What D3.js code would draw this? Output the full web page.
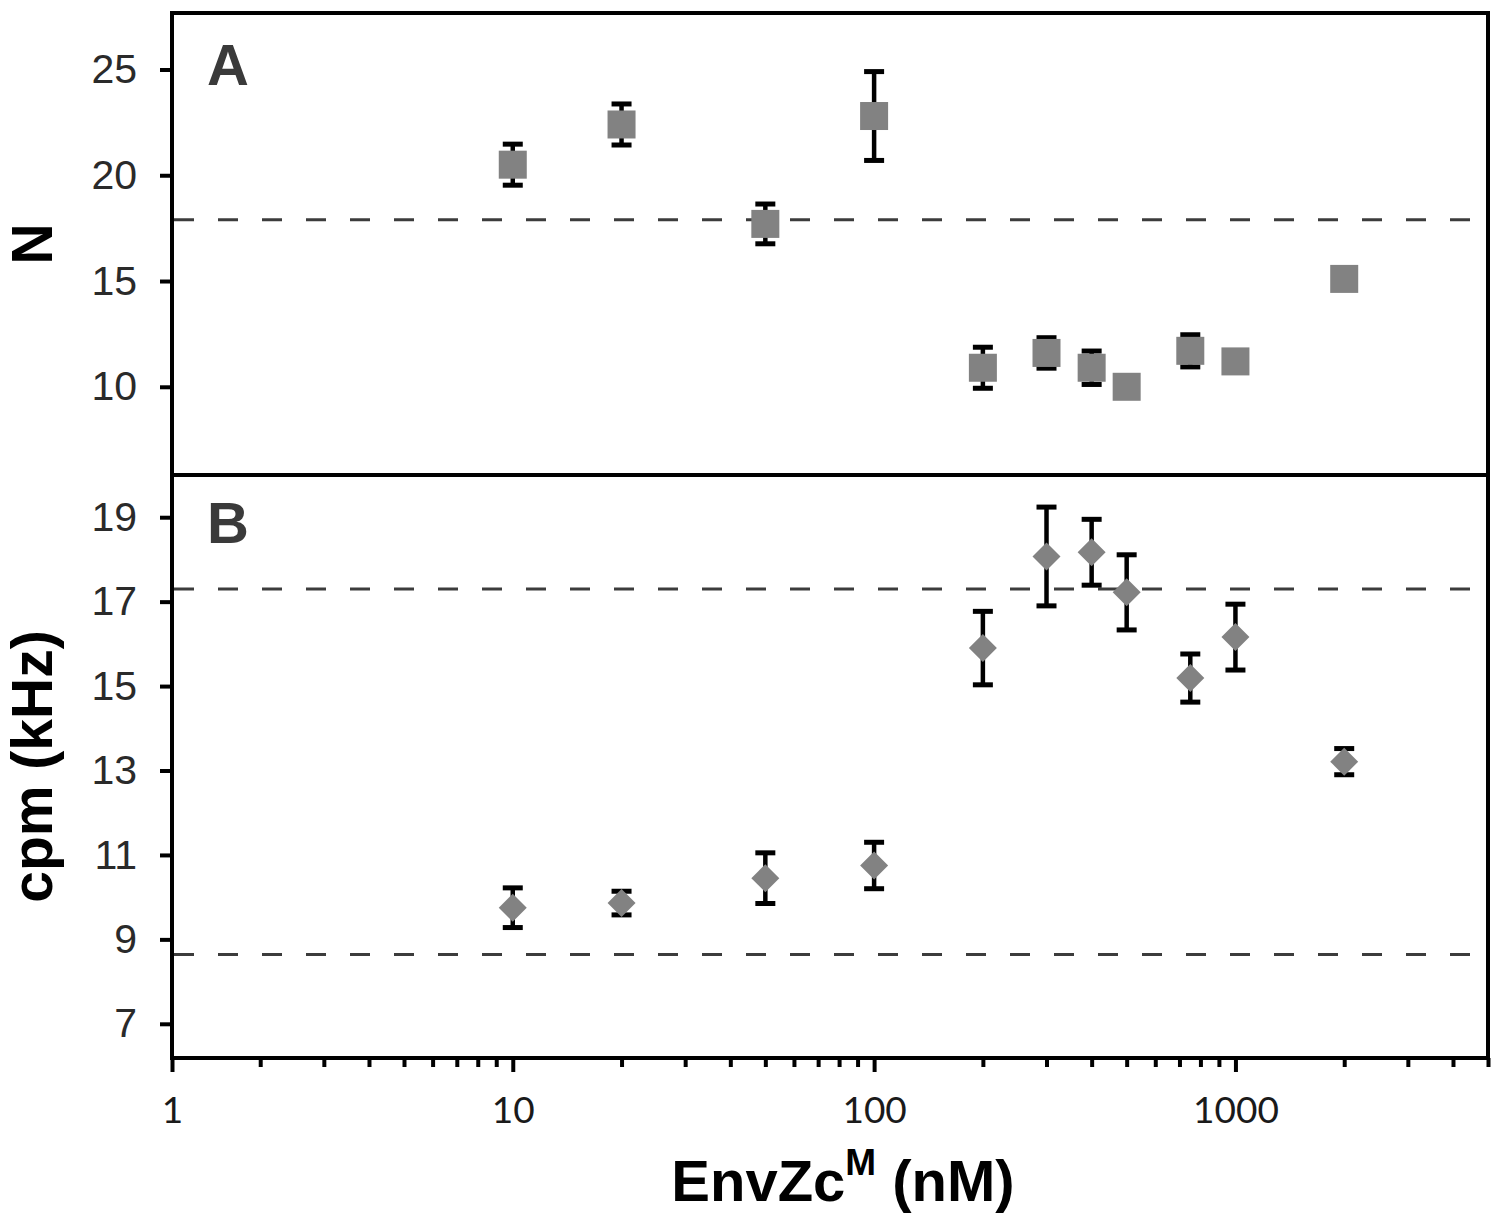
<!DOCTYPE html>
<html>
<head>
<meta charset="utf-8">
<script src="https://cdn.jsdelivr.net/npm/d3@7"></script>
<style>
  body { margin: 0; background: #fff; }
  svg { display: block; }
  .tick-label-y { font-family: "Liberation Sans", Arial, sans-serif; font-size: 41px; fill: #2a2a2a; }
  .tick-label-x { font-family: Lato, "Open Sans", sans-serif; font-size: 37px; fill: #1a1a1a; }
  .axis-title { font-family: "Liberation Sans", Arial, sans-serif; font-weight: bold; fill: #000; }
  .panel-label { font-family: "Liberation Sans", Arial, sans-serif; font-weight: bold; font-size: 58px; fill: #3a3a3a; }
</style>
</head>
<body>
<div class="d3-wrapper"></div>
<script>
// EnvZc^M concentrations (nM), shared by both panels
const concentrations = [10, 20, 50, 100, 200, 300, 400, 500, 750, 1000, 2000];

// panel A: N
const nValues = [20.5, 22.4, 17.7, 22.8, 10.9, 11.6, 10.9, 10.0, 11.7, 11.2, 15.1];
const nErrors = [0.97, 0.97, 0.94, 2.1, 0.97, 0.72, 0.79, 0.4, 0.76, 0.4, 0.3];
const nReference = [17.9];
const nTicks = [10, 15, 20, 25];

// panel B: cpm (kHz)
const cpmValues = [9.75, 9.86, 10.45, 10.75, 15.9, 18.07, 18.17, 17.22, 15.19, 16.16, 13.21];
const cpmErrors = [0.47, 0.28, 0.6, 0.55, 0.87, 1.17, 0.78, 0.89, 0.57, 0.78, 0.31];
const cpmReference = [17.3, 8.64];
const cpmTicks = [7, 9, 11, 13, 15, 17, 19];

// x axis ticks
const xMajorTicks = [10, 100, 1000];
const xMinorTicks = [2, 3, 4, 5, 6, 7, 8, 9, 20, 30, 40, 50, 60, 70, 80, 90,
  200, 300, 400, 500, 600, 700, 800, 900, 2000, 3000, 4000, 5000];

const WIDTH = 1500, HEIGHT = 1222;
const PLOT = { left: 172, right: 1488, top: 13, mid: 475, bottom: 1058 };
const X_MIN = 1.14, X_MAX = 5000; // the axis starts just right of 1 in the original

const xScale = d3.scaleLog().domain([X_MIN, X_MAX]).range([PLOT.left, PLOT.right]);
const yN = d3.scaleLinear().domain([5.83, 27.67]).range([PLOT.mid, PLOT.top]);
const yCpm = d3.scaleLinear().domain([6.19, 20.0]).range([PLOT.bottom, PLOT.mid]);

const svg = d3.select('.d3-wrapper').append('svg')
  .attr('width', WIDTH)
  .attr('height', HEIGHT);

const rows = concentrations.map((c, i) => ({
  c: c, n: nValues[i], nErr: nErrors[i], cpm: cpmValues[i], cpmErr: cpmErrors[i]
}));

function drawLeftAxis(scale, ticks) {
  const g = svg.append('g')
    .attr('transform', `translate(${PLOT.left},0)`)
    .call(d3.axisLeft(scale).tickValues(ticks).tickSize(12).tickSizeOuter(0).tickPadding(23));
  g.select('.domain').remove();
  g.attr('font-size', null).attr('font-family', null);
  g.selectAll('.tick line').attr('stroke', '#000').attr('stroke-width', 4);
  g.selectAll('.tick text').attr('class', 'tick-label-y');
}

function drawReference(scale, values) {
  svg.selectAll(null)
    .data(values)
    .enter().append('line')
    .attr('x1', PLOT.left)
    .attr('x2', PLOT.right)
    .attr('y1', d => scale(d))
    .attr('y2', d => scale(d))
    .attr('stroke', '#3c3c3c')
    .attr('stroke-width', 3)
    .attr('stroke-dasharray', '20,24')
    .attr('stroke-dashoffset', -2);
}

function drawErrorBars(scale, key, errKey) {
  const g = svg.append('g').attr('stroke', '#000');
  const bars = g.selectAll('g').data(rows).enter().append('g');
  bars.append('line')
    .attr('stroke-width', 4.5)
    .attr('x1', d => xScale(d.c)).attr('x2', d => xScale(d.c))
    .attr('y1', d => scale(d[key] - d[errKey]))
    .attr('y2', d => scale(d[key] + d[errKey]));
  [-1, 1].forEach(sign => {
    bars.append('line')
      .attr('stroke-width', 5)
      .attr('x1', d => xScale(d.c) - 10).attr('x2', d => xScale(d.c) + 10)
      .attr('y1', d => scale(d[key] + sign * d[errKey]))
      .attr('y2', d => scale(d[key] + sign * d[errKey]));
  });
}

// dashed reference lines
drawReference(yN, nReference);
drawReference(yCpm, cpmReference);

// error bars (behind the symbols)
drawErrorBars(yN, 'n', 'nErr');
drawErrorBars(yCpm, 'cpm', 'cpmErr');

// panel A squares
svg.selectAll('.sq')
  .data(rows)
  .enter().append('rect')
  .attr('class', 'sq')
  .attr('x', d => xScale(d.c) - 14)
  .attr('y', d => yN(d.n) - 14)
  .attr('width', 28)
  .attr('height', 28)
  .attr('fill', '#828282');

// panel B diamonds
const diamond = d3.symbol().type(d3.symbolSquare).size(392);
svg.selectAll('.dia')
  .data(rows)
  .enter().append('path')
  .attr('class', 'dia')
  .attr('d', diamond)
  .attr('transform', d => `translate(${xScale(d.c)},${yCpm(d.cpm)}) rotate(45)`)
  .attr('fill', '#828282');

// frames
[[PLOT.top, PLOT.mid], [PLOT.mid, PLOT.bottom]].forEach(([t, b]) => {
  svg.append('rect')
    .attr('x', PLOT.left).attr('y', t)
    .attr('width', PLOT.right - PLOT.left).attr('height', b - t)
    .attr('fill', 'none').attr('stroke', '#000').attr('stroke-width', 4);
});

// y axes
drawLeftAxis(yN, nTicks);
drawLeftAxis(yCpm, cpmTicks);

// x axis: minor ticks, then major ticks with labels
const xMinor = svg.append('g')
  .attr('transform', `translate(0,${PLOT.bottom})`)
  .call(d3.axisBottom(xScale).tickValues(xMinorTicks).tickSize(9).tickSizeOuter(0).tickFormat(''));
xMinor.select('.domain').remove();
xMinor.selectAll('.tick line').attr('stroke', '#000').attr('stroke-width', 4);

const xMajor = svg.append('g')
  .attr('transform', `translate(0,${PLOT.bottom})`)
  .call(d3.axisBottom(xScale).tickValues([X_MIN].concat(xMajorTicks)).tickSize(14).tickSizeOuter(0)
    .tickFormat(d => d === X_MIN ? '1' : d3.format('d')(d)));
xMajor.select('.domain').remove();
xMajor.attr('font-size', null).attr('font-family', null);
xMajor.selectAll('.tick line').attr('stroke', '#000').attr('stroke-width', 4);
xMajor.selectAll('.tick text')
  .attr('class', 'tick-label-x')
  .attr('y', 65)
  .attr('dy', 0);

// axis titles
svg.append('text')
  .attr('class', 'axis-title')
  .attr('transform', `translate(52,${(PLOT.top + PLOT.mid) / 2}) rotate(-90)`)
  .attr('text-anchor', 'middle')
  .style('font-size', '57px')
  .text('N');

svg.append('text')
  .attr('class', 'axis-title')
  .attr('transform', `translate(52,${(PLOT.mid + PLOT.bottom) / 2}) rotate(-90)`)
  .attr('text-anchor', 'middle')
  .style('font-size', '57px')
  .text('cpm (kHz)');

const xTitle = svg.append('text')
  .attr('class', 'axis-title')
  .attr('x', 843)
  .attr('y', 1201)
  .attr('text-anchor', 'middle')
  .style('font-size', '58px');
xTitle.append('tspan').text('EnvZc');
xTitle.append('tspan').attr('dy', -26).style('font-size', '37px').text('M');
xTitle.append('tspan').attr('dy', 26).text(' (nM)');

// panel letters
svg.append('text').attr('class', 'panel-label').attr('x', 207).attr('y', 85).text('A');
svg.append('text').attr('class', 'panel-label').attr('x', 207).attr('y', 543).text('B');
</script>
</body>
</html>
